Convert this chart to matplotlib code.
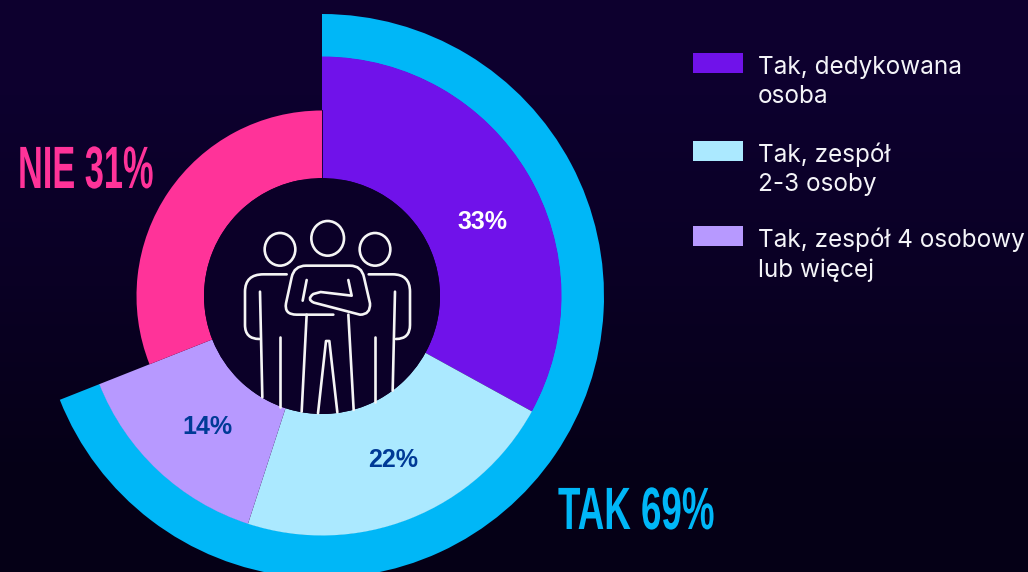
import numpy as np
import matplotlib
matplotlib.use('Agg')
import matplotlib.pyplot as plt
import matplotlib.patheffects as pe
from matplotlib.path import Path
from matplotlib.patches import PathPatch, Ellipse, Circle, Rectangle
from matplotlib.transforms import Affine2D

# dane
total_values = [69, 31]
detail_values = [33, 22, 14, 31]
detail_labels = ['33%', '22%', '14%']
legend_labels = ['Tak, dedykowana\nosoba', 'Tak, zespół\n2-3 osoby', 'Tak, zespół 4 osobowy\nlub więcej']
total_labels = ['TAK 69%', 'NIE 31%']

HOLE = '#0b0028'
RING = '#00b7f7'
PINK = '#ff3399'
detail_colors = ['#7012ea', '#abe9ff', '#b799ff']
label_colors = ['white', '#003a96', '#003a96']
bg_stops = [[13, 0, 46], [10, 0, 36], [5, 0, 22]]


class SqueezeX(pe.AbstractPathEffect):
    """Zweza tekst w poziomie (brak waskiego fontu)"""

    def __init__(self, sx, x0):
        super().__init__()
        self.sx = sx
        self.x0 = x0

    def draw_path(self, renderer, gc, tpath, affine, rgbFace=None):
        squeeze = Affine2D().translate(-self.x0, 0).scale(self.sx, 1).translate(self.x0, 0)
        renderer.draw_path(gc, tpath, affine + squeeze, rgbFace)


fig = plt.figure(figsize=(10.28, 5.72), dpi=100, facecolor=HOLE)

bg = fig.add_axes([0, 0, 1, 1])
bg.imshow(np.array(bg_stops, dtype=np.uint8)[:, None, :], aspect='auto', interpolation='bilinear')
bg.axis('off')

ax = fig.add_axes([0, 0, 1, 1])
ax.patch.set_alpha(0)

H = 572
cx, cy = 322, H - 296

# pierscien zewnetrzny TAK
ax.pie(total_values, colors=[RING, 'none'], radius=282, center=(cx, cy), startangle=90,
       counterclock=False, wedgeprops=dict(width=43), frame=True)
# segmenty TAK
ax.pie(detail_values, colors=detail_colors + ['none'], radius=239.5, center=(cx, cy), startangle=90,
       counterclock=False, wedgeprops=dict(width=121.5), frame=True)
# NIE - mniejszy promien
ax.pie(total_values, colors=['none', PINK], radius=185.5, center=(cx, cy), startangle=90,
       counterclock=False, wedgeprops=dict(width=67.5), frame=True)
ax.set_xlim(0, 1028)
ax.set_ylim(0, 572)
ax.set_aspect('auto')
ax.axis('off')

ax.plot([cx, cx], [H - 110, H - 178], color=HOLE, lw=0.6)

# etykiety
label_pos = [(482, 222), (393, 460), (207, 427)]
for txt, col, (x, y) in zip(detail_labels, label_colors, label_pos):
    ax.text(x, H - y, txt, color=col, fontsize=18, fontweight='bold', family='Liberation Sans',
            ha='center', va='center')

# duze napisy
big = [(558, 529, RING, 0.615), (18, 188, PINK, 0.575)]
for lab, (x, y, col, sx) in zip(total_labels, big):
    ax.text(x, H - y, lab, color=col, fontsize=43, fontweight='bold', family='Liberation Sans',
            ha='left', va='baseline', path_effects=[SqueezeX(sx, x)])

# legenda
swatch_y = [53, 141, 226]
text_y = [103, 191, 277]
for lab, col, sy, ty in zip(legend_labels, detail_colors, swatch_y, text_y):
    ax.add_patch(Rectangle((693, H - sy - 20), 50, 20, color=col, lw=0))
    ax.text(758, H - ty, lab, color='#f4f4f8', fontsize=17.5, family='Inter', ha='left', va='baseline',
            linespacing=1.33)

# ikona - wspolrzedne w pikselach wycinka 240x240 *3
icon = fig.add_axes([200 / 1028, 1 - 420 / 572, 240 / 1028, 240 / 572])
icon.set_xlim(0, 720)
icon.set_ylim(720, 0)
icon.axis('off')
icon.add_patch(Circle((366, 348), 354, color=HOLE, lw=0))

for c, rx, ry in [((240, 208), 46, 49), ((383, 175), 49, 52), ((525, 208), 46, 49)]:
    icon.add_patch(Ellipse(c, rx * 2, ry * 2, fill=False, ec='#f5f5f5', lw=1.9))

M, L, C = Path.MOVETO, Path.LINETO, Path.CURVE3
shapes = [
    # lewa postac
    ([(260, 283), (190, 283), (135, 283), (135, 335), (135, 435), (135, 477), (178, 477)],
     [M, L, C, C, L, C, C]),
    # prawa postac
    ([(506, 283), (578, 283), (630, 283), (630, 335), (630, 435), (630, 477), (588, 477)],
     [M, L, C, C, L, C, C]),
    # tulow i rece
    ([(400, 404), (290, 404), (252, 404), (258, 370), (275, 292), (282, 257), (318, 257), (450, 257),
      (485, 257), (492, 292), (510, 370), (512, 404), (480, 404), (342, 368), (318, 358), (340, 342), (362, 336), (455, 347), (445, 300)],
     [M, L, C, C, L, C, C, L, C, C, L, C, C, L, C, C, L, L, L]),
    ([(320, 300), (308, 362)], [M, L]),
    ([(180, 335), (187, 652)], [M, L]),
    ([(240, 470), (240, 680)], [M, L]),
    ([(585, 335), (578, 632)], [M, L]),
    ([(525, 470), (525, 665)], [M, L]),
    ([(320, 404), (305, 695)], [M, L]),
    ([(445, 404), (461, 690)], [M, L]),
    ([(354, 700), (378, 483), (388, 483), (412, 697)], [M, L, L, L]),
]
for verts, codes in shapes:
    icon.add_patch(PathPatch(Path(verts, codes), fill=False, ec='#f5f5f5', lw=1.9,
                             capstyle='round', joinstyle='round'))

fig.savefig('out.png', dpi=100)
